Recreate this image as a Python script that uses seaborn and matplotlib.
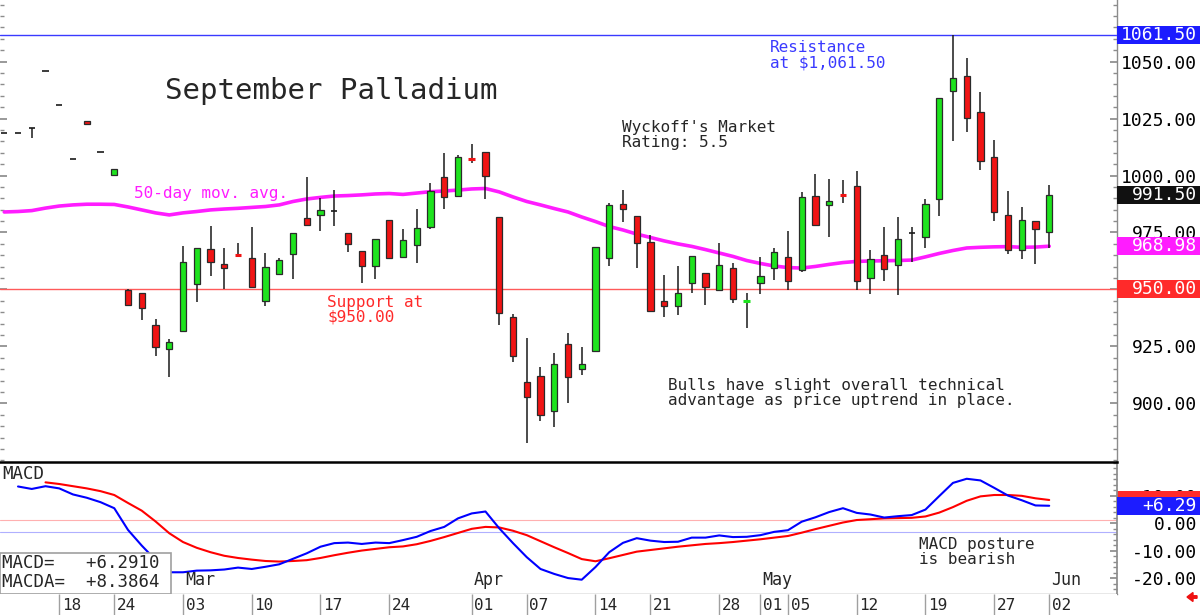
import numpy as np
import pandas as pd
import matplotlib
matplotlib.use("Agg")
import matplotlib.pyplot as plt
import matplotlib.transforms as mtransforms
from matplotlib.patches import Rectangle
from matplotlib.ticker import MultipleLocator, FuncFormatter
import seaborn as sns

sns.set_theme(style="white")
plt.rcParams['font.family'] = ['DejaVu Sans Mono', 'DejaVu Sans']

# trading days shown on the chart
dates = pd.bdate_range('2025-02-11', '2025-06-02', freq='C',
                       holidays=['2025-02-17', '2025-04-18', '2025-05-26'])

opens = [1018.5, 1018.5, 1021.0, 1046.0, 1030.9, 1007.2, 1023.9, 1010.4, 1000.1,
         949.8, 948.6, 934.4, 923.8, 931.9, 952.3, 967.8, 961.0, 965.4, 963.7,
         945.1, 956.9, 965.6, 981.2, 982.5, 984.4, 974.9, 966.9, 960.4, 980.4,
         964.4, 969.4, 977.5, 999.2, 991.1, 1007.4, 1010.2, 981.7, 937.8, 909.6,
         912.1, 896.7, 926.0, 915.1, 923.2, 963.7, 987.4, 982.2, 970.7, 945.1,
         942.9, 952.7, 957.1, 949.9, 959.6, 944.9, 952.7, 959.6, 964.4, 958.6,
         991.1, 987.2, 991.9, 995.4, 954.9, 965.3, 960.6, 974.9, 972.9, 989.6,
         1037.1, 1043.6, 1028.0, 1008.0, 982.7, 967.3, 980.0, 975.1]
highs = [1018.5, 1018.5, 1021.0, 1046.0, 1030.9, 1007.2, 1023.9, 1010.4, 1002.7,
         950.0, 948.6, 937.0, 928.1, 969.1, 968.1, 978.0, 968.1, 970.5, 977.5,
         965.9, 963.6, 974.9, 999.3, 990.0, 993.6, 974.9, 966.9, 972.0, 980.4,
         976.5, 985.3, 996.6, 1009.7, 1009.0, 1013.8, 1010.2, 981.7, 939.1, 928.6,
         916.1, 922.0, 930.8, 924.6, 968.8, 988.1, 993.6, 982.2, 973.9, 956.4,
         960.4, 964.7, 957.1, 970.3, 961.8, 948.6, 964.4, 968.0, 975.8, 992.9,
         1000.7, 998.3, 998.0, 1002.0, 967.2, 977.5, 981.7, 977.5, 989.6, 1034.1,
         1061.5, 1051.4, 1036.8, 1015.6, 993.2, 986.3, 980.0, 995.7]
lows = [1018.5, 1018.5, 1016.3, 1046.0, 1030.9, 1007.2, 1022.5, 1010.4, 1000.1,
        943.2, 936.6, 921.0, 911.5, 931.9, 944.7, 956.1, 950.1, 964.8, 951.2,
        942.9, 956.9, 954.6, 978.3, 975.8, 978.0, 966.6, 952.7, 954.5, 963.7,
        964.4, 961.8, 976.5, 985.2, 991.1, 1005.6, 989.6, 934.4, 918.1, 882.5,
        892.4, 889.6, 900.4, 912.5, 922.4, 960.4, 979.7, 959.5, 940.6, 938.1,
        938.8, 948.6, 943.2, 949.2, 944.2, 933.3, 947.9, 954.2, 949.8, 957.8,
        978.3, 972.9, 987.8, 949.8, 947.9, 953.9, 947.4, 962.2, 968.1, 982.4,
        1015.1, 1018.9, 1002.4, 980.0, 965.6, 963.2, 961.2, 968.1]
closes = [1018.5, 1018.5, 1021.0, 1046.0, 1030.9, 1007.2, 1022.5, 1010.4, 1002.7,
          943.2, 941.7, 924.9, 926.8, 962.2, 968.1, 961.9, 959.6, 964.8, 951.2,
          959.7, 962.9, 974.9, 978.3, 984.9, 984.4, 970.0, 960.4, 972.0, 963.7,
          971.7, 976.8, 993.3, 990.4, 1008.3, 1006.8, 999.9, 939.6, 920.8, 902.7,
          894.8, 917.3, 911.6, 917.1, 968.8, 987.1, 985.2, 970.5, 940.6, 942.9,
          948.6, 964.7, 951.0, 960.7, 945.7, 945.3, 955.9, 966.3, 953.9, 990.7,
          978.3, 988.7, 991.3, 953.7, 963.5, 958.8, 972.0, 974.9, 987.4, 1034.1,
          1042.6, 1025.1, 1006.5, 984.1, 967.3, 980.3, 976.4, 991.5]

ma50 = [984.0, 984.2, 984.6, 985.7, 986.6, 987.1, 987.4, 987.4, 987.3, 986.2,
        984.9, 983.6, 982.7, 983.6, 984.2, 984.9, 985.3, 985.6, 986.0, 986.4,
        987.1, 988.6, 989.7, 990.4, 991.0, 991.2, 991.5, 991.9, 992.1, 991.7,
        992.3, 992.9, 993.2, 993.6, 994.1, 994.3, 992.8, 990.6, 988.6, 987.1,
        985.5, 984.0, 981.8, 979.8, 977.6, 976.1, 974.3, 972.8, 971.3, 970.0,
        968.9, 967.5, 966.0, 964.5, 962.7, 961.4, 960.3, 959.6, 959.4, 960.1,
        961.0, 961.8, 962.3, 962.5, 962.6, 962.7, 962.9, 964.3, 965.8, 967.1,
        968.2, 968.5, 968.7, 968.8, 968.5, 968.6, 968.98]

# MACD (blue) from Feb 12, MACD average (red) from Feb 14
macd_start = '2025-02-12'
macd = [13.3, 12.4, 13.4, 12.6, 10.4, 9.2, 7.6, 5.4, -2.5, -8.2,
        -13.4, -17.9, -17.9, -17.3, -17.2, -16.9, -16.2, -16.7, -15.9, -15.0,
        -13.0, -11.0, -8.6, -7.3, -7.1, -7.6, -7.1, -7.3, -6.2, -5.0,
        -2.9, -1.4, 1.7, 3.5, 4.2, -1.9, -7.3, -12.4, -16.7, -18.5,
        -20.0, -20.6, -16.0, -10.6, -7.2, -5.5, -6.4, -6.9, -6.8, -5.3,
        -5.3, -4.5, -5.1, -5.0, -4.4, -3.2, -2.6, 0.5, 2.1, 4.0,
        5.4, 3.7, 3.1, 2.0, 2.5, 2.9, 4.9, 9.8, 14.6, 16.1,
        15.5, 12.8, 10.0, 8.3, 6.4, 6.29]
macda_start = '2025-02-14'
macda = [14.8, 14.2, 13.4, 12.6, 11.6, 10.2, 7.3, 4.5, 0.6, -3.7,
         -6.9, -9.0, -10.6, -11.9, -12.7, -13.3, -13.8, -14.0, -13.8, -13.5,
         -12.7, -11.7, -10.8, -10.0, -9.4, -8.8, -8.5, -7.7, -6.5, -5.1,
         -3.6, -2.1, -1.4, -1.6, -2.8, -4.4, -6.6, -8.8, -10.9, -13.1,
         -13.9, -12.8, -11.6, -10.4, -9.8, -9.2, -8.6, -8.1, -7.6, -7.3,
         -6.9, -6.4, -5.9, -5.3, -4.7, -3.5, -2.2, -1.0, 0.2, 1.1,
         1.4, 1.7, 1.8, 1.9, 2.4, 3.8, 5.8, 8.1, 9.7, 10.2,
         10.2, 9.9, 9.0, 8.39]
macd_levels = [1.1, -3.3]

resistance = 1061.50
support = 950.00
last_close = 991.50
ma_last = 968.98
macd_last = 6.2910
macda_last = 8.3864

tick_days = ['2025-02-18', '2025-02-24', '2025-03-03', '2025-03-10', '2025-03-17',
             '2025-03-24', '2025-04-01', '2025-04-07', '2025-04-14', '2025-04-21',
             '2025-04-28', '2025-05-01', '2025-05-05', '2025-05-12', '2025-05-19',
             '2025-05-27', '2025-06-02']
month_days = ['2025-03-03', '2025-04-01', '2025-05-01', '2025-06-02']
month_names = ['Mar', 'Apr', 'May', 'Jun']

GREEN = '#1ee31e'
RED = '#f01414'
GRAY = '#8c8c8c'

x = np.arange(len(dates))
pos = {d: i for i, d in enumerate(dates)}
xlim = (-0.31, 80.93)

fig = plt.figure(figsize=(12, 6.15), dpi=100)
ax = fig.add_axes([0, 0.24878, 0.93083, 0.75122])
axm = fig.add_axes([0, 0.034146, 0.93083, 0.21463])
axd = fig.add_axes([0, 0, 0.93083, 0.034146])

# ---- price panel
ax.axhline(resistance, color='#3a3aff', lw=1, zorder=1)
ax.axhline(support, color='#ff5a5a', lw=1, zorder=1)
sns.lineplot(x=x, y=ma50, ax=ax, color='#ff1cff', linewidth=2.6, zorder=2)

o = np.array(opens); h = np.array(highs); l = np.array(lows); c = np.array(closes)
ax.vlines(x, l, h, color='#1a1a1a', lw=1.1, zorder=3)
body = np.abs(c - o) >= 0.9
cols = np.where(c >= o, GREEN, RED)
ax.bar(x[body], np.abs(c - o)[body], bottom=np.minimum(o, c)[body], width=0.45,
       color=cols[body], edgecolor='#2a2a2a', linewidth=0.9, zorder=4)
for i in x[~body]:
    mid = (o[i] + c[i]) / 2
    if c[i] > o[i]:
        ax.hlines(mid, i - 0.25, i + 0.25, color=GREEN, lw=2.2, zorder=4)
    elif c[i] < o[i]:
        ax.hlines(mid, i - 0.25, i + 0.25, color=RED, lw=2.2, zorder=4)
    else:
        ax.hlines(mid, i - 0.22, i + 0.22, color='#1a1a1a', lw=1.2, zorder=4)

ax.set_xlim(*xlim)
ax.set_ylim(874.3, 1077.0)
ax.set_xticks([])
ax.set_xlabel('')
ax.set_ylabel('')
ax.set_yticks(np.arange(900, 1051, 25))
ax.yaxis.set_minor_locator(MultipleLocator(5))
ax.yaxis.set_major_formatter(FuncFormatter(lambda v, p: f'{v:.2f}'))
ax.tick_params(axis='y', which='both', left=True, right=True, labelleft=False,
               labelright=True, direction='in', color=GRAY, labelsize=13,
               labelcolor='black', pad=57.6)
ax.tick_params(axis='y', which='major', length=5)
ax.tick_params(axis='y', which='minor', length=3)
for t in ax.yaxis.get_major_ticks():
    t.label2.set_horizontalalignment('right')
for s in ['top', 'left', 'bottom']:
    ax.spines[s].set_visible(False)
ax.spines['right'].set_color(GRAY)
ax.spines['right'].set_linewidth(1)

ax.text(11.7, 1037.1, 'September Palladium', fontsize=21, va='center', ha='left')
ax.text(44.9, 1024.3, "Wyckoff's Market\nRating: 5.5", fontsize=11.5,
        va='top', ha='left', linespacing=1.0)
ax.text(55.7, 1059.4, 'Resistance\nat $1,061.50', fontsize=11.5, color='#3a3aff',
        va='top', ha='left', linespacing=1.0)
ax.text(9.4, 992.3, '50-day mov. avg.', fontsize=11.5, color='#ff1cff',
        va='center', ha='left')
ax.text(23.5, 947.6, 'Support at\n$950.00', fontsize=11.5, color='#ff2a2a',
        va='top', ha='left', linespacing=1.0)
ax.text(48.3, 911.2, 'Bulls have slight overall technical\n'
        'advantage as price uptrend in place.', fontsize=11.5,
        va='top', ha='left', linespacing=1.0)


def value_box(a, y, label, color, h, z=6):
    trans = mtransforms.blended_transform_factory(a.transAxes, a.transData)
    a.add_patch(Rectangle((1.0, y - h / 2), 83 / 1117, h, transform=trans,
                          facecolor=color, edgecolor='none', clip_on=False, zorder=z))
    if label:
        a.text(1.0 + 80 / 1117, y, label, transform=trans, ha='right', va='center',
               color='white', fontsize=13, zorder=z + 1, clip_on=False)


value_box(ax, resistance, f'{resistance:.2f}', '#1c1cff', 7.9)
value_box(ax, last_close, f'{last_close:.2f}', '#111111', 7.9)
value_box(ax, ma_last, f'{ma_last:.2f}', '#ff1cff', 7.9)
value_box(ax, support, f'{support:.2f}', '#ff2a2a', 7.9)

# ---- MACD panel
for lvl, lc in zip(macd_levels, ['#ffb0b0', '#b0b0ff']):
    axm.axhline(lvl, color=lc, lw=0.8, zorder=1)
mx = np.arange(len(macd)) + pos[pd.Timestamp(macd_start)]
ax_x = np.arange(len(macda)) + pos[pd.Timestamp(macda_start)]
sns.lineplot(x=ax_x, y=macda, ax=axm, color='#ff0000', linewidth=1.5, zorder=3)
sns.lineplot(x=mx, y=macd, ax=axm, color='#0000ff', linewidth=1.5, zorder=3)
axm.set_xlim(*xlim)
axm.set_ylim(-25.8, 22.2)
axm.set_xticks([])
axm.set_xlabel('')
axm.set_ylabel('')
axm.set_yticks([-20, -10, 0, 10])
axm.yaxis.set_minor_locator(MultipleLocator(2))
axm.yaxis.set_major_formatter(FuncFormatter(lambda v, p: f'{v:+.2f}' if v > 0 else f'{v:.2f}'))
axm.tick_params(axis='y', which='both', left=False, right=True, labelleft=False,
                labelright=True, direction='in', color=GRAY, labelsize=13,
                labelcolor='black', pad=57.6)
axm.tick_params(axis='y', which='major', length=5)
axm.tick_params(axis='y', which='minor', length=3)
for t in axm.yaxis.get_major_ticks():
    t.label2.set_horizontalalignment('right')
axm.spines['left'].set_visible(False)
axm.spines['top'].set_color('black')
axm.spines['top'].set_linewidth(1.8)
axm.spines['bottom'].set_color(GRAY)
axm.spines['bottom'].set_linewidth(1)
axm.spines['right'].set_color(GRAY)

# red signal box sits under the tick labels, blue MACD box on top
value_box(axm, macda_last, '', '#ff2a2a', 6.5, z=2)
value_box(axm, macd_last, f'{macd_last:+.2f}', '#1c1cff', 6.5, z=6)

axm.text(2 / 1117, 0.977, 'MACD', transform=axm.transAxes, fontsize=12.5,
         va='top', ha='left')
axm.text(66.5, -5.1, 'MACD posture\nis bearish', fontsize=11.5, va='top',
         ha='left', linespacing=1.0)
for d, name in zip(month_days, month_names):
    axm.text(pos[pd.Timestamp(d)] + 0.15, -20.7, name, fontsize=12,
             va='center', ha='left')

axm.add_patch(Rectangle((0, 0), 171 / 1117, 41 / 132, transform=axm.transAxes,
                        facecolor='white', edgecolor='#a0a0a0', lw=1.2, zorder=5))
axm.text(2 / 1117, 0.235, f'MACD=   {macd_last:+.4f}', transform=axm.transAxes,
         fontsize=12.5, va='center', ha='left', zorder=6)
axm.text(2 / 1117, 0.091, f'MACDA=  {macda_last:+.4f}', transform=axm.transAxes,
         fontsize=12.5, va='center', ha='left', zorder=6)

# ---- date strip
axd.set_xlim(*xlim)
axd.set_ylim(0, 1)
axd.set_xticks([])
axd.set_yticks([])
for s in ['top', 'left', 'bottom', 'right']:
    axd.spines[s].set_visible(False)
for d in tick_days:
    i = pos[pd.Timestamp(d)]
    axd.vlines(i, 0, 1, color='#a0a0a0', lw=1)
    axd.text(i + 0.2, 0.45, pd.Timestamp(d).strftime('%d'), fontsize=11.5,
             va='center', ha='left')

fig.patches.append(matplotlib.patches.FancyArrow(
    1197, 18, -10, 0, width=2.5, head_width=9, head_length=6,
    transform=None, color='#ee1111', length_includes_head=True))

fig.savefig('out.png', dpi=100, facecolor='white')
